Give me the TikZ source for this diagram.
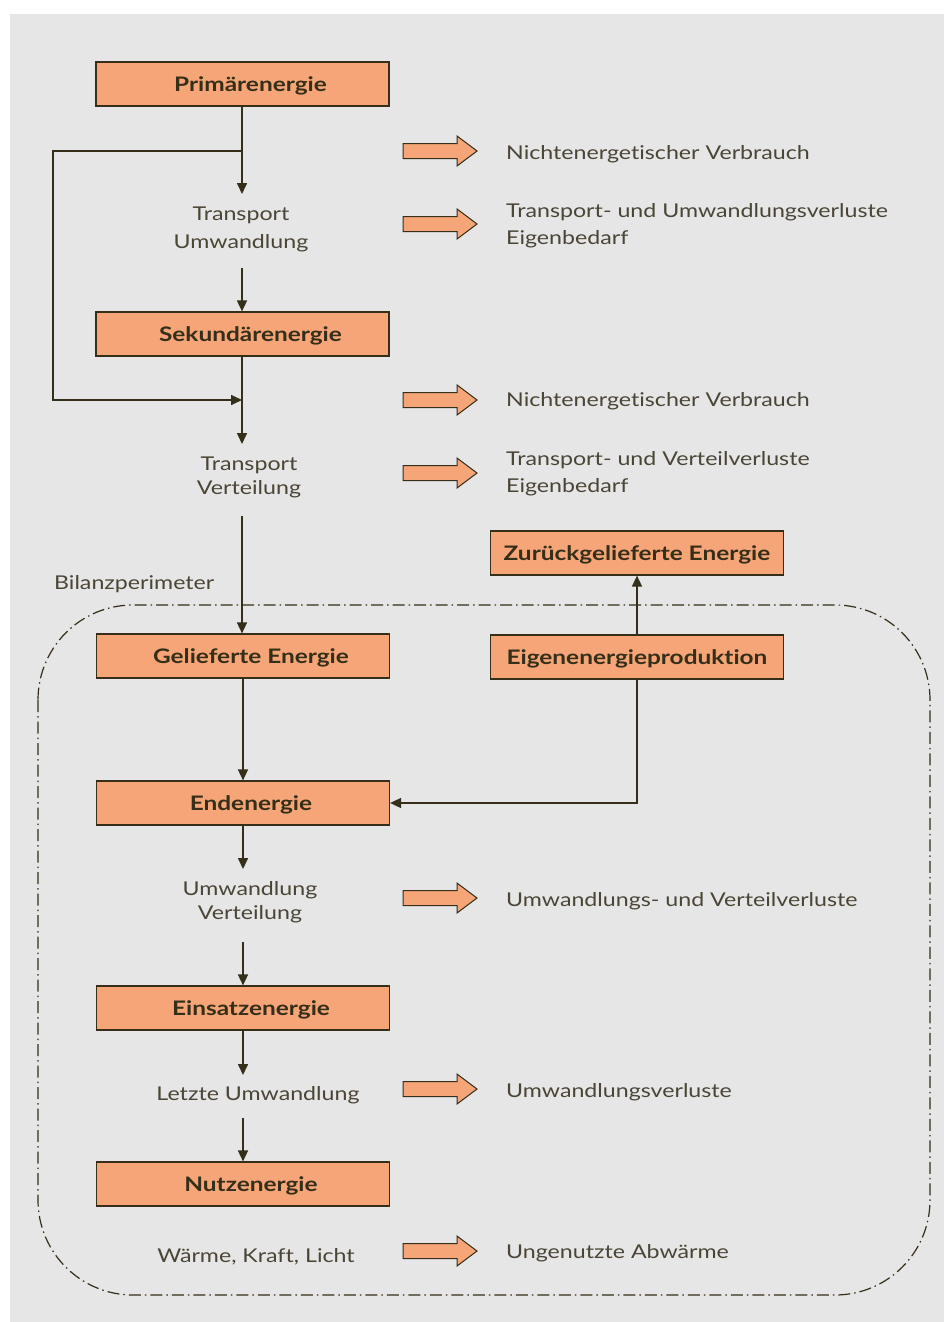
\documentclass[tikz,border=0pt]{standalone}
\usepackage{fontspec}
\setmainfont{Lato}[FakeStretch=1.22, Ligatures=NoCommon]
\usetikzlibrary{arrows.meta}
\definecolor{bgc}{HTML}{E6E6E6}
\definecolor{boxc}{HTML}{F5A578}
\definecolor{linec}{HTML}{352E18}
\definecolor{txtc}{HTML}{4A4535}
\tikzset{
  ebox/.style={draw=linec, line width=1.2pt, fill=boxc, minimum width=293pt, minimum height=44pt, inner sep=0pt, text height=16pt, text depth=1.6pt, font=\fontsize{20}{24}\selectfont\bfseries, text=linec},
  lbl/.style={align=center, inner sep=0pt, font=\fontsize{19}{24}\selectfont, text=txtc},
  rlbl/.style={align=left, anchor=west, inner sep=0pt, font=\fontsize{19}{27}\selectfont, text=txtc},
  conn/.style={draw=linec, line width=1.6pt},
  arr/.style={conn, -{Triangle[length=11pt,width=10pt]}},
  bigarrow/.style={draw=linec, line width=1pt, fill=boxc},
  perim/.style={draw=linec, line width=1.2pt, dash pattern=on 12pt off 4pt on 1.5pt off 4pt, rounded corners=95pt}
}
\newcommand{\blockarrow}[1]{%
  \path[bigarrow] (403,#1-7.5) -- (457,#1-7.5) -- (457,#1-15) -- (477,#1) -- (457,#1+15) -- (457,#1+7.5) -- (403,#1+7.5) -- cycle;}
\newcommand{\sh}{\hspace*{16pt}}
\begin{document}
\begin{tikzpicture}[x=1pt,y=-1pt]
\useasboundingbox (0,0) rectangle (944,1322);
\fill[bgc] (10,14) rectangle (944,1322);

% perimeter
\draw[perim] (38,605) rectangle (930,1295);
\node[anchor=west, inner sep=0pt, font=\fontsize{19}{24}\selectfont, text=txtc] (bil) at (54,584) {Bilanzperimeter};

% boxes
\node[ebox] (prim) at (242.5,84) {\sh Primärenergie};
\node[ebox] (sek) at (242.5,334) {\sh Sekundärenergie};
\node[ebox] (gel) at (243,656) {\sh Gelieferte Energie};
\node[ebox] (end) at (243,803) {\sh Endenergie};
\node[ebox] (ein) at (243,1008) {\sh Einsatzenergie};
\node[ebox] (nutz) at (243,1184) {\sh Nutzenergie};
\node[ebox] (zur) at (637,553) {Zurückgelieferte Energie};
\node[ebox] (eig) at (637,657) {Eigenenergieproduktion};

% middle labels
\node[lbl, font=\fontsize{19}{28}\selectfont] (tu) at (241,229) {Transport\\Umwandlung};
\node[lbl] (tv) at (249,477) {Transport\\Verteilung};
\node[lbl] (uv) at (250,902) {Umwandlung\\Verteilung};
\node[lbl] (lu) at (258,1095) {Letzte Umwandlung};
\node[lbl] (wkl) at (256,1257) {Wärme, Kraft, Licht};

% coordinates
\coordinate (fb1) at (242,151);
\coordinate (fb2) at (242,400);
\coordinate (tuTop) at (242,194);
\coordinate (tuBot) at (242,268);
\coordinate (tvTop) at (242,444);
\coordinate (tvBot) at (242,516);
\coordinate (uvTop) at (243,869);
\coordinate (uvBot) at (243,942);
\coordinate (luTop) at (243,1075);
\coordinate (luBot) at (243,1118);

% connectors
\draw[arr] (prim.south -| fb1) -- (tuTop);
\draw[arr] (fb1) -- ++(-189,0) |- (fb2);
\draw[arr] (tuBot) -- (sek.north -| tuBot);
\draw[arr] (sek.south -| fb2) -- (tvTop);
\draw[arr] (tvBot) -- (gel.north -| tvBot);
\draw[arr] (gel.south) -- (end.north);
\draw[arr] (eig.south) |- (end.east);
\draw[arr] (eig.north) -- (zur.south);
\draw[arr] (end.south) -- (uvTop);
\draw[arr] (uvBot) -- (ein.north);
\draw[arr] (ein.south) -- (luTop);
\draw[arr] (luBot) -- (nutz.north);

% block arrows
\blockarrow{151}
\blockarrow{224}
\blockarrow{400}
\blockarrow{473}
\blockarrow{898}
\blockarrow{1089}
\blockarrow{1251}

% right labels
\node[rlbl] (r1) at (506,154) {Nichtenergetischer Verbrauch};
\node[rlbl] (r2) at (506,226) {Transport- und Umwandlungsverluste\\Eigenbedarf};
\node[rlbl] (r3) at (506,401) {Nichtenergetischer Verbrauch};
\node[rlbl] (r4) at (506,474) {Transport- und Verteilverluste\\Eigenbedarf};
\node[rlbl] (r5) at (506,901) {Umwandlungs- und Verteilverluste};
\node[rlbl] (r6) at (506,1092) {Umwandlungsverluste};
\node[rlbl] (r7) at (506,1253) {Ungenutzte Abwärme};
\end{tikzpicture}
\end{document}
